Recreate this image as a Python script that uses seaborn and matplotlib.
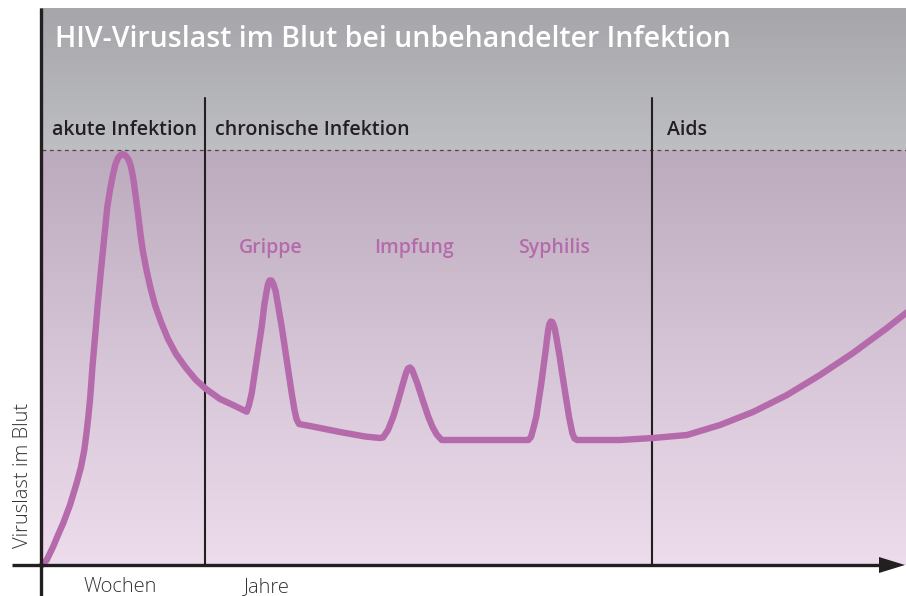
import numpy as np
import pandas as pd
import matplotlib
matplotlib.use("Agg")
import matplotlib.pyplot as plt
import seaborn as sns
from matplotlib.colors import LinearSegmentedColormap

# ---------------- data (time units / viral load units) -------------
acute_t = [1, 5.7, 12, 17, 22.3, 29, 35.7, 40, 43.3, 45.5, 47.3, 49, 50.3, 51.5, 52.9, 54.4, 56.5, 59.7,
           63, 66.3, 69, 72.3, 74.5, 77, 79.5, 81.3, 84, 86.5, 88.5, 90, 91.5, 92.8, 94, 95.2, 96.5,
           98, 99.7, 102, 105.7, 109.5, 114, 120, 127, 135, 145, 155, 165, 179, 192, 205.7]
acute_load = [0, 5, 18, 30, 42, 60, 82, 98, 115, 132, 148, 165, 182, 199, 215, 232, 258, 292,
              325, 358, 375, 392, 401, 407, 410, 411, 410, 407, 403, 398, 391, 383, 374, 365, 355,
              343, 329, 313, 294, 277, 260, 243, 226, 211, 197, 185, 176, 166, 160, 153.3]

chronic_t = [208, 210.7, 215.7, 220.7, 223.3, 225.3, 226.9, 228.6, 230.5, 232.4, 234.6, 237.5, 240.7,
             245.7, 250.7, 253.5, 255.5, 258, 269, 299, 324, 339,
             342, 347, 352.3, 357.3, 362, 365, 367, 369, 371, 373.5, 376.3, 381.7, 387.3, 391.5,
             395.7, 400.7, 487.3,
             490, 492.5, 495.3, 500.3, 504.7, 506, 507.2, 508.4, 509.8, 511.2, 512.5, 514, 515.5,
             517, 518.7, 520.5, 522.7, 528, 531.3, 533.5, 536, 579]
chronic_load = [160, 171.7, 205, 238.3, 260, 272, 280.5, 284.5, 284.5, 281, 274, 257, 238.3,
                205, 171.7, 155, 146, 141, 139, 133, 128.5, 127,
                127.5, 135, 148.3, 165, 181.7, 192, 196.5, 197.5, 195.5, 189, 181.7, 165, 148.3, 138,
                130.5, 125, 125,
                128, 137, 148.3, 181.7, 215, 226, 235, 241, 243.5, 243, 240.5, 235, 227,
                218, 208, 196, 181.7, 148.3, 132, 126.5, 125, 125]

aids_t = [612, 646, 679, 712, 746, 779, 812, 846, 865, 880]
aids_load = [127, 130, 140, 153, 170, 190, 212, 237, 252, 263]

title = "HIV-Viruslast im Blut bei unbehandelter Infektion"
phase_labels = ["akute Infektion", "chronische Infektion", "Aids"]
phase_label_t = [11, 174, 626]
phase_bounds_t = [164, 611]
event_labels = ["Grippe", "Impfung", "Syphilis"]
event_label_t = [230, 373, 513]
time_labels = ["Wochen", "Jahre"]
time_label_t = [79, 226]
ylabel = "Viruslast im Blut"

# ---------------- style ----------------
CURVE = "#b56aab"
DARK = "#231f20"
sns.set_theme(style="white")
plt.rcParams["font.family"] = ["Open Sans", "DejaVu Sans"]

df = pd.DataFrame({
    "t": acute_t + chronic_t + aids_t,
    "load": acute_load + chronic_load + aids_load,
})

W, H = 906, 596
fig = plt.figure(figsize=(W / 100, H / 100), dpi=100)
ax = fig.add_axes([0, 0, 1, 1])

# gradients
grey = LinearSegmentedColormap.from_list("g", ["#bebfc3", "#a6a6aa"])
purple = LinearSegmentedColormap.from_list("p", ["#ecdcec", "#d5c5d6", "#bcabbd"])
grad = np.linspace(0, 1, 256).reshape(-1, 1)
ax.imshow(grad, cmap=grey, origin="lower", aspect="auto", extent=(-1, 865, 415, 557), zorder=0)
ax.imshow(grad, cmap=purple, origin="lower", aspect="auto", extent=(-1, 865, 0, 415), zorder=0)

# dashed top line
ax.plot([1, 865], [415, 415], color="#4a4a4a", lw=0.9, ls=(0, (3, 3)), zorder=2)

# phase separators
for xb in phase_bounds_t:
    ax.plot([xb, xb], [0, 467], color=DARK, lw=1.5, zorder=3)

# curve
sns.lineplot(data=df, x="t", y="load", sort=False, estimator=None, ax=ax, color=CURVE,
             lw=4.6, solid_joinstyle="round", solid_capstyle="round", zorder=4)
ax.set_xlim(-41, 865)
ax.set_ylim(-31, 565)
ax.set_axis_off()

# axes
ax.plot([0, 0], [-31, 557], color=DARK, lw=2.4, zorder=5, solid_capstyle="butt")
ax.plot([-29, 842], [0, 0], color=DARK, lw=2.4, zorder=5, solid_capstyle="butt")
ax.fill([838, 864, 838], [8, 0, -8], color=DARK, zorder=5, lw=0)

# texts
ax.text(14, 518, title, color="white", fontsize=20.5, fontweight="semibold", va="baseline", ha="left", zorder=6)
for lab, xt in zip(phase_labels, phase_label_t):
    ax.text(xt, 430, lab, color=DARK, fontsize=14, fontweight="semibold", va="baseline", ha="left", zorder=6)
for lab, xt in zip(event_labels, event_label_t):
    ax.text(xt, 312, lab, color=CURVE, fontsize=14, fontweight="semibold", va="baseline", ha="center", zorder=6)
for lab, xt in zip(time_labels, time_label_t):
    ax.text(xt, -27.5, lab, color="#333333", fontsize=14.5, fontweight="light", va="baseline", ha="center", zorder=6)
ax.text(-13, 90, ylabel, color="#333333", fontsize=14.5, fontweight="light", rotation=90, rotation_mode="anchor",
        va="baseline", ha="center", zorder=6)

fig.savefig("out.png", dpi=100, facecolor="white")
